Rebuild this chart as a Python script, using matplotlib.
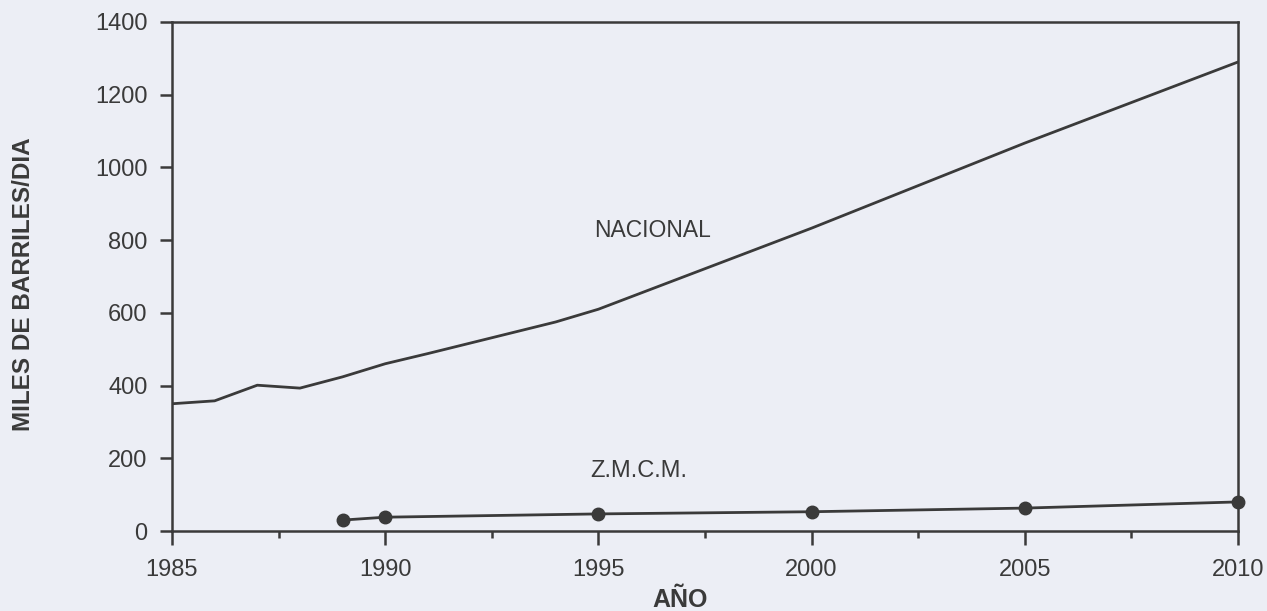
import matplotlib
matplotlib.use("Agg")
import matplotlib.pyplot as plt
from matplotlib.ticker import MultipleLocator

years_nacional = [1985, 1986, 1987, 1988, 1989, 1990, 1991, 1992, 1993, 1994, 1995, 2000, 2005, 2010]
nacional = [350, 358, 401, 393, 424, 460, 488, 517, 546, 575, 610, 833, 1067, 1290]

years_zmcm = [1989, 1990, 1995, 2000, 2005, 2010]
zmcm = [30, 38, 47, 53, 63, 80]

y_ticks = [0, 200, 400, 600, 800, 1000, 1200, 1400]
x_ticks = [1985, 1990, 1995, 2000, 2005, 2010]

bg = "#eceef5"
ink = "#3a3a3a"
plt.rcParams['font.family'] = ['Liberation Sans', 'DejaVu Sans']

fig = plt.figure(figsize=(12.67, 6.11), dpi=100, facecolor=bg)
ax = fig.add_axes([172/1267, 1-531/611, (1238-172)/1267, (531-22)/611])
ax.set_facecolor(bg)

ax.plot(years_nacional, nacional, color=ink, lw=2.0)
ax.plot(years_zmcm, zmcm, color=ink, lw=2.0, marker='o', ms=9, clip_on=False)

ax.set_xlim(1985, 2010)
ax.set_ylim(0, 1400)
ax.set_xticks(x_ticks)
ax.set_yticks(y_ticks)
ax.xaxis.set_minor_locator(MultipleLocator(2.5))

for s in ax.spines.values():
    s.set_color(ink)
    s.set_linewidth(1.8)

ax.tick_params(axis='y', which='major', direction='out', length=8.5, width=1.8, color=ink,
               labelsize=17, labelcolor=ink, pad=9)
ax.tick_params(axis='x', which='major', direction='out', length=10, width=1.8, color=ink,
               labelsize=17, labelcolor=ink, pad=10)
ax.tick_params(axis='x', which='minor', direction='out', length=5, width=1.8, color=ink)

ax.text(1996.28, 827, "NACIONAL", fontsize=16.5, color=ink, ha='center', va='center')
ax.text(1995.95, 165, "Z.M.C.M.", fontsize=17, color=ink, ha='center', va='center')

fig.text(680/1267, 1-600/611, "AÑO", fontsize=18, fontweight='bold', color=ink,
         ha='center', va='center')
fig.text(24/1267, 1-284/611, "MILES DE BARRILES/DIA", fontsize=17.5, fontweight='bold',
         color=ink, ha='center', va='center', rotation=90)

fig.savefig("out.png", dpi=100, facecolor=bg)
